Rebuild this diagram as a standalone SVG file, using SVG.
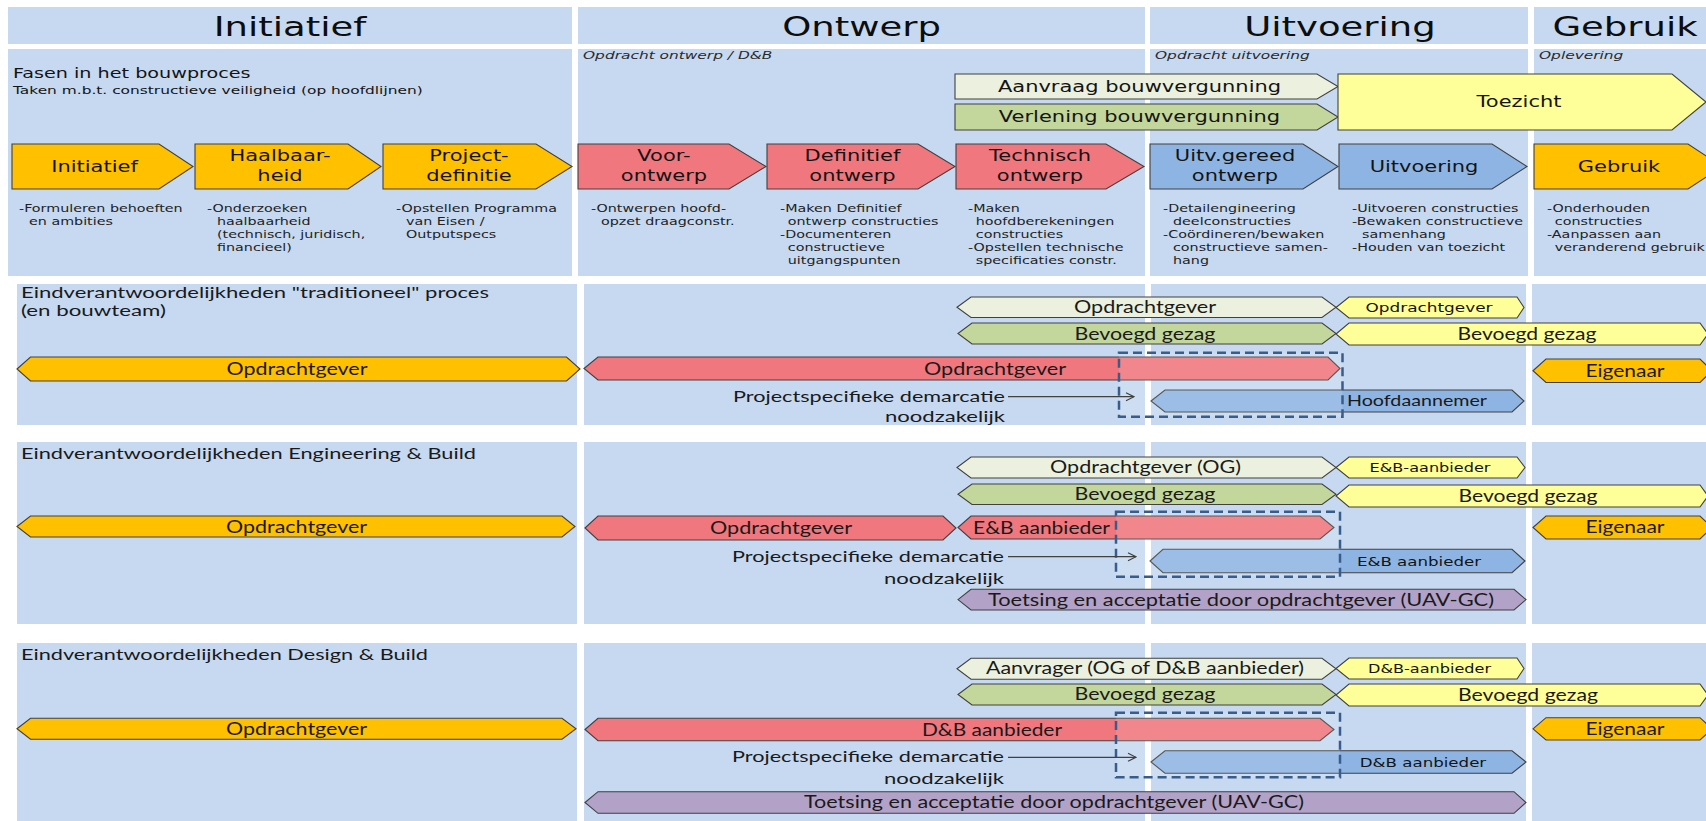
<svg xmlns="http://www.w3.org/2000/svg" width="1706" height="821" viewBox="0 0 1706 821">
<defs>
<marker id="arr" markerWidth="10" markerHeight="10" refX="9" refY="5" orient="auto" markerUnits="userSpaceOnUse">
<path d="M1,1 L9,5 L1,9" fill="none" stroke="#404040" stroke-width="1.2"/>
</marker>
<style>
.pnl{fill:#c6d9f1}
.sh{stroke:#404040;stroke-width:1.1;stroke-linejoin:miter}
.y{fill:#ffc000}.r{fill:#f0777e}.b{fill:#8eb4e3}.lg{fill:#ebf1de}.g{fill:#c3d69b}.ly{fill:#ffff99}.p{fill:#b3a2c7}
text{font-family:"DejaVu Sans",sans-serif;fill:#141414}
.hd{font-size:27px;text-anchor:middle;fill:#0d0d0d}
.ph{font-size:15px;text-anchor:middle}
.ds{font-size:11px;fill:#222}
.it{font-size:11px;font-style:italic;fill:#2a2a2a}
.fs{font-size:14px}
.tk{font-size:11px}
.sm{font-size:11.5px;text-anchor:middle}
.md{font-size:13px;text-anchor:middle}
.lt{font-family:Lato,"Open Sans",sans-serif;font-size:17px;text-anchor:middle;fill:#1a1a1a}
.lts{font-family:Lato,"Open Sans",sans-serif;font-size:16px;fill:#1a1a1a}
.ltl{font-family:Lato,"Open Sans",sans-serif;font-size:17px;text-anchor:start;fill:#1a1a1a}
.dash{fill:#ffffff;fill-opacity:0.12;stroke:#385d8a;stroke-width:2.5;stroke-dasharray:9 5}
.con{stroke:#404040;stroke-width:1.2;fill:none}
</style>
</defs>
<rect width="1706" height="821" fill="#ffffff"/>

<g id="panels">
<rect class="pnl" x="8" y="7" width="564" height="37"/>
<rect class="pnl" x="578" y="7" width="567" height="37"/>
<rect class="pnl" x="1150" y="7" width="378" height="37"/>
<rect class="pnl" x="1534" y="7" width="172" height="37"/>
<rect class="pnl" x="8" y="49" width="564" height="227"/>
<rect class="pnl" x="578" y="49" width="567" height="227"/>
<rect class="pnl" x="1150" y="49" width="378" height="227"/>
<rect class="pnl" x="1534" y="49" width="172" height="227"/>
<rect class="pnl" x="17" y="284" width="560" height="141"/>
<rect class="pnl" x="584" y="284" width="561" height="141"/>
<rect class="pnl" x="1151" y="284" width="375" height="141"/>
<rect class="pnl" x="1532" y="284" width="174" height="141"/>
<rect class="pnl" x="17" y="442" width="560" height="182"/>
<rect class="pnl" x="584" y="442" width="561" height="182"/>
<rect class="pnl" x="1151" y="442" width="375" height="182"/>
<rect class="pnl" x="1532" y="442" width="174" height="182"/>
<rect class="pnl" x="17" y="643" width="560" height="178"/>
<rect class="pnl" x="584" y="643" width="561" height="178"/>
<rect class="pnl" x="1151" y="643" width="375" height="178"/>
<rect class="pnl" x="1532" y="643" width="174" height="178"/>
</g>

<g id="headers">
<text class="hd" transform="translate(290 0) scale(1.37 1)" y="36">Initiatief</text>
<text class="hd" transform="translate(861.5 0) scale(1.37 1)" y="36">Ontwerp</text>
<text class="hd" transform="translate(1340 0) scale(1.37 1)" y="36">Uitvoering</text>
<text class="hd" transform="translate(1625 0) scale(1.37 1)" y="36">Gebruik</text>
</g>

<g id="top-labels">
<text class="fs" transform="translate(13 0) scale(1.37 1)" y="78">Fasen in het bouwproces</text>
<text class="tk" transform="translate(13 0) scale(1.4 1)" y="94.5">Taken m.b.t. constructieve veiligheid (op hoofdlijnen)</text>
<text class="it" transform="translate(583 0) scale(1.4 1)" y="59">Opdracht ontwerp / D&amp;B</text>
<text class="it" transform="translate(1155 0) scale(1.4 1)" y="59">Opdracht uitvoering</text>
<text class="it" transform="translate(1539 0) scale(1.4 1)" y="59">Oplevering</text>
</g>

<g id="aanvraag">
<polygon class="sh lg" points="955,74 1317,74 1338,86.5 1317,99 955,99"/>
<text class="ph" transform="translate(1139.5 0) scale(1.4 1)" y="92">Aanvraag bouwvergunning</text>
</g>
<g id="verlening">
<polygon class="sh g" points="955,104 1317,104 1338,117 1317,130 955,130"/>
<text class="ph" transform="translate(1139.5 0) scale(1.4 1)" y="122.5">Verlening bouwvergunning</text>
</g>
<g id="toezicht">
<polygon class="sh ly" points="1338,74 1672,74 1706,102 1672,130 1338,130"/>
<text class="ph" transform="translate(1519 0) scale(1.4 1)" y="107.5">Toezicht</text>
</g>

<g id="ph-initiatief">
<polygon class="sh y" points="12,144 159,144 193,166.5 159,189 12,189"/>
<text class="ph" transform="translate(94.5 0) scale(1.4 1)" y="172">Initiatief</text>
</g>
<g id="ph-haalbaarheid">
<polygon class="sh y" points="195,144 348,144 381,166.5 348,189 195,189"/>
<text class="ph" transform="translate(280 0) scale(1.4 1)"><tspan x="0" y="161">Haalbaar-</tspan><tspan x="0" y="181">heid</tspan></text>
</g>
<g id="ph-projectdefinitie">
<polygon class="sh y" points="383,144 536,144 572,166.5 536,189 383,189"/>
<text class="ph" transform="translate(469 0) scale(1.4 1)"><tspan x="0" y="161">Project-</tspan><tspan x="0" y="181">definitie</tspan></text>
</g>
<g id="ph-voorontwerp">
<polygon class="sh r" points="578,144 729,144 766,166.5 729,189 578,189"/>
<text class="ph" transform="translate(664 0) scale(1.4 1)"><tspan x="0" y="161">Voor-</tspan><tspan x="0" y="181">ontwerp</tspan></text>
</g>
<g id="ph-definitief">
<polygon class="sh r" points="767,144 918,144 955,166.5 918,189 767,189"/>
<text class="ph" transform="translate(852.5 0) scale(1.4 1)"><tspan x="0" y="161">Definitief</tspan><tspan x="0" y="181">ontwerp</tspan></text>
</g>
<g id="ph-technisch">
<polygon class="sh r" points="956,144 1106,144 1144,166.5 1106,189 956,189"/>
<text class="ph" transform="translate(1040 0) scale(1.4 1)"><tspan x="0" y="161">Technisch</tspan><tspan x="0" y="181">ontwerp</tspan></text>
</g>
<g id="ph-uitvgereed">
<polygon class="sh b" points="1150,144 1303,144 1338,166.5 1303,189 1150,189"/>
<text class="ph" transform="translate(1235 0) scale(1.4 1)"><tspan x="0" y="161">Uitv.gereed</tspan><tspan x="0" y="181">ontwerp</tspan></text>
</g>
<g id="ph-uitvoering">
<polygon class="sh b" points="1339,144 1492,144 1527,166.5 1492,189 1339,189"/>
<text class="ph" transform="translate(1424 0) scale(1.4 1)" y="172">Uitvoering</text>
</g>
<g id="ph-gebruik">
<polygon class="sh y" points="1534,144 1688,144 1722,166.5 1688,189 1534,189"/>
<text class="ph" transform="translate(1619 0) scale(1.4 1)" y="172">Gebruik</text>
</g>

<g id="taken">
<text class="ds" transform="translate(19 0) scale(1.3 1)"><tspan x="0" y="212">-Formuleren behoeften</tspan><tspan x="7.7" y="225">en ambities</tspan></text>
<text class="ds" transform="translate(207 0) scale(1.3 1)"><tspan x="0" y="212">-Onderzoeken</tspan><tspan x="7.7" y="225">haalbaarheid</tspan><tspan x="7.7" y="238">(technisch, juridisch,</tspan><tspan x="7.7" y="251">financieel)</tspan></text>
<text class="ds" transform="translate(396 0) scale(1.3 1)"><tspan x="0" y="212">-Opstellen Programma</tspan><tspan x="7.7" y="225">van Eisen /</tspan><tspan x="7.7" y="238">Outputspecs</tspan></text>
<text class="ds" transform="translate(591 0) scale(1.3 1)"><tspan x="0" y="212">-Ontwerpen hoofd-</tspan><tspan x="7.7" y="225">opzet draagconstr.</tspan></text>
<text class="ds" transform="translate(780 0) scale(1.3 1)"><tspan x="0" y="212">-Maken Definitief</tspan><tspan x="6" y="225">ontwerp  constructies</tspan><tspan x="0" y="238">-Documenteren</tspan><tspan x="6" y="251">constructieve</tspan><tspan x="6" y="264">uitgangspunten</tspan></text>
<text class="ds" transform="translate(968 0) scale(1.3 1)"><tspan x="0" y="212">-Maken</tspan><tspan x="6" y="225">hoofdberekeningen</tspan><tspan x="6" y="238">constructies</tspan><tspan x="0" y="251">-Opstellen technische</tspan><tspan x="6" y="264">specificaties  constr.</tspan></text>
<text class="ds" transform="translate(1163 0) scale(1.3 1)"><tspan x="0" y="212">-Detailengineering</tspan><tspan x="7.7" y="225">deelconstructies</tspan><tspan x="0" y="238">-Coördineren/bewaken</tspan><tspan x="7.7" y="251">constructieve samen-</tspan><tspan x="7.7" y="264">hang</tspan></text>
<text class="ds" transform="translate(1352 0) scale(1.3 1)"><tspan x="0" y="212">-Uitvoeren constructies</tspan><tspan x="0" y="225">-Bewaken constructieve</tspan><tspan x="7.7" y="238">samenhang</tspan><tspan x="0" y="251">-Houden van toezicht</tspan></text>
<text class="ds" transform="translate(1547 0) scale(1.3 1)"><tspan x="0" y="212">-Onderhouden</tspan><tspan x="6" y="225">constructies</tspan><tspan x="0" y="238">-Aanpassen aan</tspan><tspan x="6" y="251">veranderend gebruik</tspan></text>
</g>

<!-- Section 1 -->
<g id="s1-title">
<text class="lts" x="21" y="298" style="font-size:15px" textLength="468" lengthAdjust="spacingAndGlyphs">Eindverantwoordelijkheden "traditioneel" proces</text>
<text class="lts" x="21" y="316" style="font-size:15px" textLength="145" lengthAdjust="spacingAndGlyphs">(en bouwteam)</text>
</g>
<g id="s1-og-light">
<polygon class="sh lg" points="957,307.25 971,297 1322,297 1336,307.25 1322,317.5 971,317.5"/>
<text class="lt" x="1145" y="312.5" textLength="142" lengthAdjust="spacingAndGlyphs">Opdrachtgever</text>
</g>
<g id="s1-og-yellow-small">
<polygon class="sh ly" points="1336,307.5 1349,297 1517,297 1524,307.5 1517,318 1349,318"/>
<text class="md" transform="translate(1429 0) scale(1.3 1)" y="312.5">Opdrachtgever</text>
</g>
<g id="s1-bg-green">
<polygon class="sh g" points="958,333.5 972,323 1322,323 1336,333.5 1322,344 972,344"/>
<text class="lt" x="1145" y="339.5" textLength="141" lengthAdjust="spacingAndGlyphs">Bevoegd gezag</text>
</g>
<g id="s1-bg-yellow">
<polygon class="sh ly" points="1336,334 1349,323 1700,323 1708,334 1700,345 1349,345"/>
<text class="lt" x="1527" y="340" textLength="139" lengthAdjust="spacingAndGlyphs">Bevoegd gezag</text>
</g>
<g id="s1-og-orange">
<polygon class="sh y" points="17,369 30.5,357 566.5,357 580,369 566.5,381 30.5,381"/>
<text class="lt" x="297" y="375" textLength="141" lengthAdjust="spacingAndGlyphs">Opdrachtgever</text>
</g>
<g id="s1-og-red">
<polygon class="sh r" points="584,368.5 598,357 1328,357 1340,368.5 1328,380 598,380"/>
<text class="lt" x="995" y="374.5" textLength="142" lengthAdjust="spacingAndGlyphs">Opdrachtgever</text>
</g>
<g id="s1-eigenaar">
<polygon class="sh y" points="1533,370.75 1546,359 1700,359 1712,370.75 1700,382.5 1546,382.5"/>
<text class="lt" x="1625" y="376.5" textLength="79" lengthAdjust="spacingAndGlyphs">Eigenaar</text>
</g>
<g id="s1-hoofdaannemer">
<polygon class="sh b" points="1151,401 1165,390 1512,390 1524,401 1512,412 1165,412"/>
<text class="lt" x="1417" y="406" style="font-size:16px" textLength="140" lengthAdjust="spacingAndGlyphs">Hoofdaannemer</text>
</g>
<g id="s1-demarcatie-label">
<text class="lts" x="1005" y="401.7" text-anchor="end" textLength="272" lengthAdjust="spacingAndGlyphs">Projectspecifieke demarcatie</text>
<text class="lts" x="1005" y="422" text-anchor="end" textLength="120" lengthAdjust="spacingAndGlyphs">noodzakelijk</text>
</g>
<g id="s1-demarcatie-box">
<rect class="dash" x="1119" y="352.7" width="223.5" height="64"/>
</g>

<!-- Section 2 -->
<g id="s2-title">
<text class="lts" x="21" y="459" textLength="455" lengthAdjust="spacingAndGlyphs">Eindverantwoordelijkheden Engineering &amp; Build</text>
</g>
<g id="s2-og-light">
<polygon class="sh lg" points="957,467.5 971,457 1322,457 1336,467.5 1322,478 971,478"/>
<text class="lt" x="1145.5" y="472.7" textLength="191" lengthAdjust="spacingAndGlyphs">Opdrachtgever (OG)</text>
</g>
<g id="s2-eb-yellow-small">
<polygon class="sh ly" points="1336,467.5 1349,457 1517,457 1525,467.5 1517,478 1349,478"/>
<text class="sm" transform="translate(1430 0) scale(1.4 1)" y="471.7">E&amp;B-aanbieder</text>
</g>
<g id="s2-bg-green">
<polygon class="sh g" points="958,494.25 972,484 1322,484 1336,494.25 1322,504.5 972,504.5"/>
<text class="lt" x="1145" y="500" textLength="141" lengthAdjust="spacingAndGlyphs">Bevoegd gezag</text>
</g>
<g id="s2-bg-yellow">
<polygon class="sh ly" points="1336,496 1349,485 1700,485 1708,496 1700,507 1349,507"/>
<text class="lt" x="1528" y="501.7" textLength="139" lengthAdjust="spacingAndGlyphs">Bevoegd gezag</text>
</g>
<g id="s2-og-orange">
<polygon class="sh y" points="17,526.5 30.5,516 562,516 575,526.5 562,537 30.5,537"/>
<text class="lt" x="296.6" y="533" textLength="141" lengthAdjust="spacingAndGlyphs">Opdrachtgever</text>
</g>
<g id="s2-og-red">
<polygon class="sh r" points="585,528 598,516 943,516 956,528 943,540 598,540"/>
<text class="lt" x="781" y="534" textLength="142" lengthAdjust="spacingAndGlyphs">Opdrachtgever</text>
</g>
<g id="s2-eb-red">
<polygon class="sh r" points="958,527.5 971,516 1320,516 1334,527.5 1320,539 971,539"/>
<text class="ltl" x="973" y="534" textLength="137" lengthAdjust="spacingAndGlyphs">E&amp;B aanbieder</text>
</g>
<g id="s2-eigenaar">
<polygon class="sh y" points="1533,527.5 1546,516 1700,516 1712,527.5 1700,539 1546,539"/>
<text class="lt" x="1625" y="533" textLength="79" lengthAdjust="spacingAndGlyphs">Eigenaar</text>
</g>
<g id="s2-eb-blue">
<polygon class="sh b" points="1150,561 1163,549.3 1512,549.3 1525,561 1512,572.7 1163,572.7"/>
<text class="md" transform="translate(1419 0) scale(1.28 1)" y="566">E&amp;B aanbieder</text>
</g>
<g id="s2-demarcatie-label">
<text class="lts" x="1004" y="561.7" text-anchor="end" textLength="272" lengthAdjust="spacingAndGlyphs">Projectspecifieke demarcatie</text>
<text class="lts" x="1004" y="584" text-anchor="end" textLength="120" lengthAdjust="spacingAndGlyphs">noodzakelijk</text>
</g>
<g id="s2-toetsing">
<polygon class="sh p" points="958,599.6 971,589.3 1514,589.3 1526,599.6 1514,610 971,610"/>
<text class="lt" x="1241" y="605.5" textLength="506" lengthAdjust="spacingAndGlyphs">Toetsing  en acceptatie door opdrachtgever (UAV-GC)</text>
</g>
<g id="s2-demarcatie-box">
<rect class="dash" x="1116" y="511.7" width="224" height="65"/>
</g>

<!-- Section 3 -->
<g id="s3-title">
<text class="lts" x="21" y="660" textLength="407" lengthAdjust="spacingAndGlyphs">Eindverantwoordelijkheden Design &amp; Build</text>
</g>
<g id="s3-aanvrager">
<polygon class="sh lg" points="957,668.8 971,658.3 1322,658.3 1336,668.8 1322,679.3 971,679.3"/>
<text class="lt" x="1145" y="673.5" textLength="318" lengthAdjust="spacingAndGlyphs">Aanvrager (OG of D&amp;B aanbieder)</text>
</g>
<g id="s3-db-yellow-small">
<polygon class="sh ly" points="1336,668.5 1349,658 1517,658 1524,668.5 1517,679 1349,679"/>
<text class="sm" transform="translate(1429.5 0) scale(1.4 1)" y="672.7">D&amp;B-aanbieder</text>
</g>
<g id="s3-bg-green">
<polygon class="sh g" points="958,694.5 972,684 1322,684 1336,694.5 1322,705 972,705"/>
<text class="lt" x="1145" y="700" textLength="141" lengthAdjust="spacingAndGlyphs">Bevoegd gezag</text>
</g>
<g id="s3-bg-yellow">
<polygon class="sh ly" points="1336,695 1349,684 1700,684 1708,695 1700,706 1349,706"/>
<text class="lt" x="1528" y="701" textLength="140" lengthAdjust="spacingAndGlyphs">Bevoegd gezag</text>
</g>
<g id="s3-og-orange">
<polygon class="sh y" points="17,728.8 30.5,718.3 562,718.3 576,728.8 562,739.3 30.5,739.3"/>
<text class="lt" x="296.6" y="734.5" textLength="141" lengthAdjust="spacingAndGlyphs">Opdrachtgever</text>
</g>
<g id="s3-db-red">
<polygon class="sh r" points="585,729.5 598,718.3 1320,718.3 1334,729.5 1320,740.7 598,740.7"/>
<text class="lt" x="992" y="735.5" textLength="140" lengthAdjust="spacingAndGlyphs">D&amp;B aanbieder</text>
</g>
<g id="s3-eigenaar">
<polygon class="sh y" points="1533,728.85 1546,717.7 1700,717.7 1712,728.85 1700,740 1546,740"/>
<text class="lt" x="1625" y="734.5" textLength="79" lengthAdjust="spacingAndGlyphs">Eigenaar</text>
</g>
<g id="s3-db-blue">
<polygon class="sh b" points="1151,762 1165,750.7 1512,750.7 1526,762 1512,773.3 1165,773.3"/>
<text class="md" transform="translate(1423 0) scale(1.28 1)" y="766.7">D&amp;B aanbieder</text>
</g>
<g id="s3-demarcatie-label">
<text class="lts" x="1004" y="761.7" text-anchor="end" textLength="272" lengthAdjust="spacingAndGlyphs">Projectspecifieke demarcatie</text>
<text class="lts" x="1004" y="784" text-anchor="end" textLength="120" lengthAdjust="spacingAndGlyphs">noodzakelijk</text>
</g>
<g id="s3-toetsing">
<polygon class="sh p" points="585,802.5 598,791.7 1514,791.7 1526,802.5 1514,813.3 598,813.3"/>
<text class="lt" x="1054" y="808.3" textLength="500" lengthAdjust="spacingAndGlyphs">Toetsing en acceptatie door opdrachtgever (UAV-GC)</text>
</g>
<g id="s3-demarcatie-box">
<rect class="dash" x="1116" y="712.7" width="224" height="64.6"/>
</g>

<g id="connectors">
<line class="con" x1="1008" y1="396.7" x2="1134" y2="396.7" marker-end="url(#arr)"/>
<line class="con" x1="1008" y1="556.7" x2="1136" y2="556.7" marker-end="url(#arr)"/>
<line class="con" x1="1008" y1="757.3" x2="1136" y2="757.3" marker-end="url(#arr)"/>
</g>
</svg>
